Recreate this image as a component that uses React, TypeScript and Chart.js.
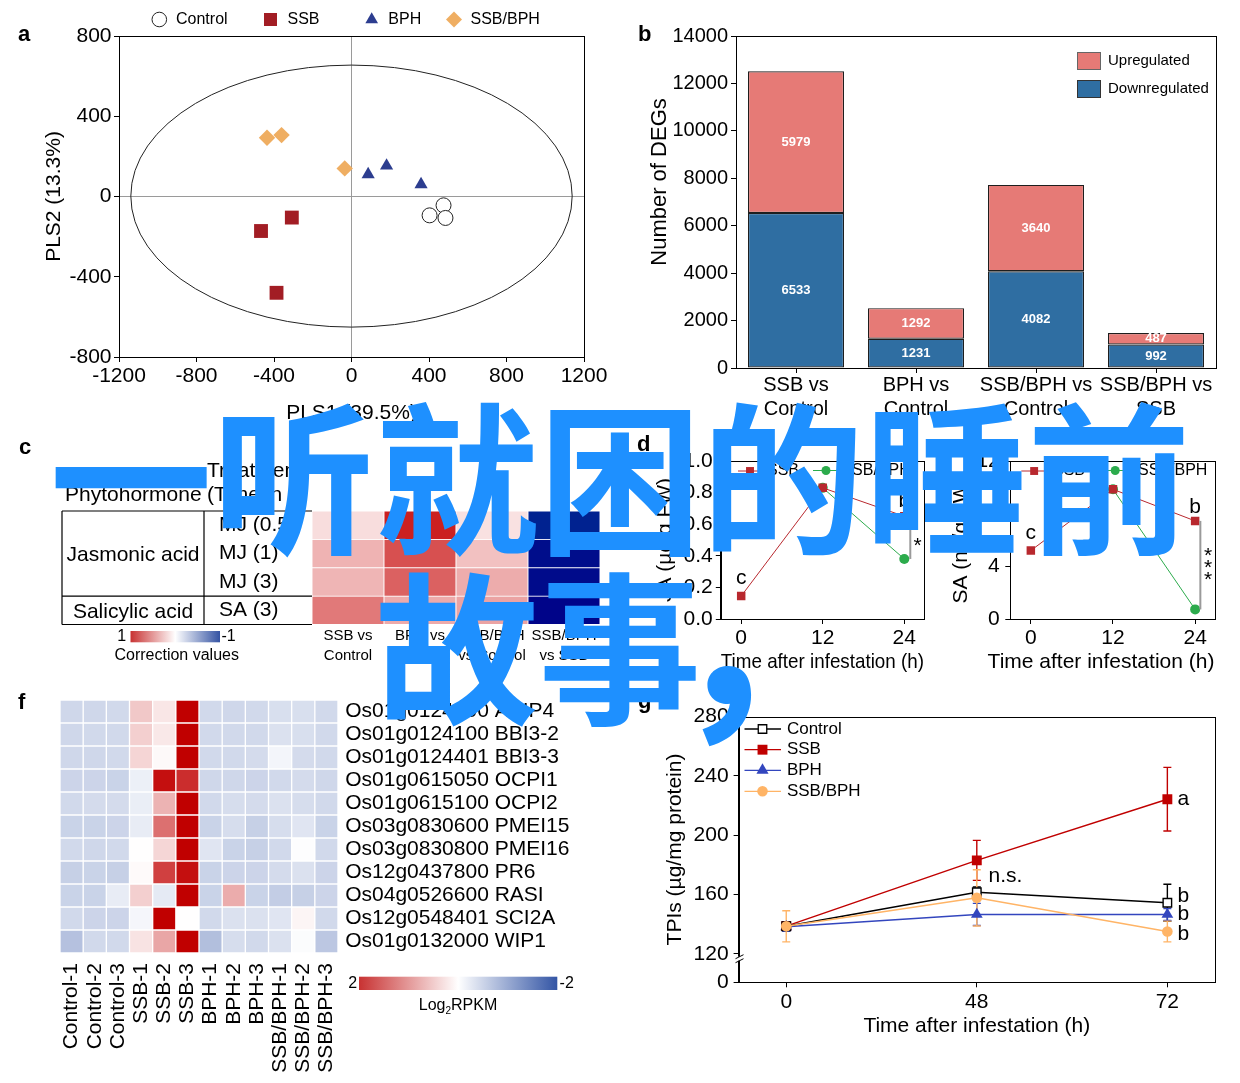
import React, { useEffect, useRef } from 'react';
import { Chart, registerables } from 'chart.js';

Chart.register(...registerables);

const FONT = "'Liberation Sans', Arial, Helvetica, sans-serif";
const BLACK = '#000000';

// ---------------- Panel a : PLS scores ----------------
const controlPLS1 = [475, 403, 485];
const controlPLS2 = [-44, -94, -107];
const ssbPLS1 = [-308, -467, -387];
const ssbPLS2 = [-105, -172, -480];
const bphPLS1 = [86, 181, 359];
const bphPLS2 = [110, 153, 60];
const ssbBphPLS1 = [-436, -361, -35];
const ssbBphPLS2 = [293, 306, 140];
const ellipseCenter = [0, 2];
const ellipseRadii = [1139, 653];

// ---------------- Panel b : DEGs ----------------
const degCategories = [['SSB vs', 'Control'], ['BPH vs', 'Control'], ['SSB/BPH vs', 'Control'], ['SSB/BPH vs', 'SSB']];
const degDown = [6533, 1231, 4082, 992];
const degUp = [5979, 1292, 3640, 487];

// ---------------- Panel c : correlation ----------------
const corrColumns = [['SSB vs', 'Control'], ['BPH vs', 'Control'], ['SSB/BPH', 'vs Control'], ['SSB/BPH', 'vs SSB']];
const corrRows = ['MJ (0.5)', 'MJ (1)', 'MJ (3)', 'SA (3)'];
const corrGroups = ['Jasmonic acid', 'Salicylic acid'];
const corrGroupSpans = [[0, 2], [3, 3]];
const corrValues = [
  [0.15, 0.95, 0.13, -0.84],
  [0.33, 0.75, 0.27, -0.94],
  [0.32, 0.68, 0.36, -0.95],
  [0.58, 0.37, 0.4, -0.98],
];

// ---------------- Panels d, e : hormones ----------------
const hormoneTimes = [0, 12, 24];
const jaSSB = [0.145, 0.83, 0.65];
const jaSSBBPH = [null, 0.83, 0.38];
const saSSB = [5.2, 9.85, 7.45];
const saSSBBPH = [null, 9.85, 0.73];

// ---------------- Panel f : heatmap ----------------
const heatSamples = ['Control-1', 'Control-2', 'Control-3', 'SSB-1', 'SSB-2', 'SSB-3', 'BPH-1', 'BPH-2', 'BPH-3', 'SSB/BPH-1', 'SSB/BPH-2', 'SSB/BPH-3'];
const heatGenes = [
  'Os01g0124200 APIP4',
  'Os01g0124100 BBI3-2',
  'Os01g0124401 BBI3-3',
  'Os01g0615050 OCPI1',
  'Os01g0615100 OCPI2',
  'Os03g0830600 PMEI15',
  'Os03g0830800 PMEI16',
  'Os12g0437800 PR6',
  'Os04g0526600 RASI',
  'Os12g0548401 SCI2A',
  'Os01g0132000 WIP1',
];
const heatValues = [
  [-0.47, -0.47, -0.45, 0.43, 0.2, 2, -0.45, -0.47, -0.45, -0.38, -0.38, -0.45],
  [-0.47, -0.45, -0.45, 0.38, 0.18, 2, -0.45, -0.45, -0.45, -0.35, -0.38, -0.45],
  [-0.47, -0.47, -0.45, 0.33, 0.05, 2, -0.45, -0.45, -0.42, -0.12, -0.42, -0.45],
  [-0.5, -0.5, -0.52, -0.18, 1.88, 1.65, -0.47, -0.47, -0.5, -0.45, -0.42, -0.47],
  [-0.45, -0.42, -0.42, -0.2, 0.6, 2, -0.45, -0.4, -0.42, -0.35, -0.4, -0.45],
  [-0.52, -0.52, -0.5, -0.22, 1.12, 2, -0.52, -0.4, -0.55, -0.4, -0.3, -0.52],
  [-0.45, -0.47, -0.45, 0.01, 0.32, 2, -0.3, -0.52, -0.55, -0.45, -0.02, -0.45],
  [-0.55, -0.52, -0.55, 0.04, 1.5, 1.88, -0.52, -0.5, -0.5, -0.42, -0.35, -0.5],
  [-0.52, -0.52, -0.22, 0.38, -0.25, 2, -0.52, 0.65, -0.52, -0.58, -0.55, -0.5],
  [-0.45, -0.5, -0.5, -0.1, 2, 0.01, -0.45, -0.35, -0.35, -0.3, 0.08, -0.45],
  [-0.72, -0.45, -0.45, 0.22, 0.7, 2, -0.75, -0.4, -0.45, -0.35, -0.04, -0.65],
];

// ---------------- Panel g : TPIs ----------------
const tpiTimes = ['0', '48', '72'];
const tpiControl = [138.5, 161.5, 154.4];
const tpiSSB = [138.6, 183, 224.3];
const tpiBPH = [138.2, 146.5, 146.5];
const tpiSSBBPH = [138.5, 157.7, 135];
const tpiControlErr = [3, 3.5, 12.5];
const tpiSSBErr = [3, 13.5, 21.5];
const tpiBPHErr = [3, 7.5, 4];
const tpiSSBBPHErr = [10.5, 19, 7];
const tpiYTicks = [120, 160, 200, 240, 280];
const tpiAxisFloor = 100.7; // bottom of broken axis, labelled "0"

// ---------------- helpers ----------------
function font(size: number, weight: string = 'normal', lineHeight: number = 1.2) {
  return { family: FONT, size, weight, lineHeight };
}

function lerpStops(stops: any[], v: number) {
  if (v <= stops[0][0]) return `rgb(${stops[0][1].join(',')})`;
  for (let i = 1; i < stops.length; i++) {
    if (v <= stops[i][0]) {
      const [a, ca] = stops[i - 1];
      const [b, cb] = stops[i];
      const t = (v - a) / (b - a);
      const c = ca.map((x: number, k: number) => Math.round(x + (cb[k] - x) * t));
      return `rgb(${c.join(',')})`;
    }
  }
  return `rgb(${stops[stops.length - 1][1].join(',')})`;
}
const corrStops = [[-1, [0, 0, 136]], [-0.8, [0, 42, 146]], [-0.5, [90, 110, 185]], [0, [255, 255, 255]], [0.5, [230, 140, 140]], [1, [200, 20, 20]]];
const heatStops = [[-2, [49, 84, 165]], [0, [255, 255, 255]], [2, [192, 0, 0]]];
const corrColor = (v: number) => lerpStops(corrStops, v);
const heatColor = (v: number) => lerpStops(heatStops, v);

function drawMarker(ctx: any, style: string, x: number, y: number, r: number, fill?: string, stroke?: string, lw?: number) {
  ctx.beginPath();
  if (style === 'circle') {
    ctx.arc(x, y, r, 0, Math.PI * 2);
  } else if (style === 'rect') {
    const s = r * Math.SQRT1_2;
    ctx.rect(x - s, y - s, 2 * s, 2 * s);
  } else if (style === 'rectRot') {
    ctx.moveTo(x, y - r);
    ctx.lineTo(x + r, y);
    ctx.lineTo(x, y + r);
    ctx.lineTo(x - r, y);
    ctx.closePath();
  } else if (style === 'triangle') {
    let a = 0;
    for (let k = 0; k < 3; k++) {
      const px = x + Math.sin(a) * r;
      const py = y - Math.cos(a) * r;
      if (k === 0) ctx.moveTo(px, py); else ctx.lineTo(px, py);
      a += (2 * Math.PI) / 3;
    }
    ctx.closePath();
  }
  if (fill) { ctx.fillStyle = fill; ctx.fill(); }
  if (stroke && lw) { ctx.strokeStyle = stroke; ctx.lineWidth = lw; ctx.stroke(); }
}

const framePlugin = {
  id: 'frame',
  afterDatasetsDraw(chart: any, _a: any, opts: any) {
    if (!opts || !opts.show) return;
    const { ctx, chartArea: a } = chart;
    ctx.save();
    ctx.strokeStyle = BLACK;
    ctx.lineWidth = 1;
    const l = Math.round(a.left) + 0.5, t = Math.round(a.top) + 0.5;
    const r = Math.round(a.right) + 0.5, b = Math.round(a.bottom) + 0.5;
    ctx.strokeRect(l, t, r - l, b - t);
    ctx.restore();
  },
};

const keyPlugin = {
  id: 'key',
  afterDraw(chart: any, _a: any, opts: any) {
    if (!opts || !opts.items) return;
    const ctx = chart.ctx;
    ctx.save();
    for (const it of opts.items) {
      if (it.line) {
        ctx.beginPath();
        ctx.moveTo(it.line[0], it.y);
        ctx.lineTo(it.line[1], it.y);
        ctx.strokeStyle = it.lineColor;
        ctx.lineWidth = it.lineWidth || 1;
        ctx.stroke();
      }
      if (it.box) {
        const b = it.box;
        ctx.fillStyle = b.fill;
        ctx.fillRect(b.x, b.y, b.w, b.h);
        ctx.strokeStyle = b.stroke;
        ctx.lineWidth = 1;
        ctx.strokeRect(b.x + 0.5, b.y + 0.5, b.w - 1, b.h - 1);
      }
      if (it.marker) {
        const m = it.marker;
        drawMarker(ctx, m.style, m.x, it.y, m.r, m.fill, m.stroke, m.lw);
      }
      ctx.font = `${opts.size}px ${FONT}`;
      ctx.fillStyle = BLACK;
      ctx.textAlign = 'left';
      ctx.textBaseline = 'middle';
      ctx.fillText(it.text, it.tx, it.y);
    }
    ctx.restore();
  },
};

const notesPlugin = {
  id: 'notes',
  afterDraw(chart: any, _a: any, opts: any) {
    if (!opts || !opts.items) return;
    const ctx = chart.ctx;
    for (const n of opts.items) {
      const xs = chart.scales[n.xScale || 'x'];
      const ys = chart.scales[n.yScale || 'y'];
      const px = n.px !== undefined ? n.px : xs.getPixelForValue(n.x) + (n.dx || 0);
      const py = n.py !== undefined ? n.py : ys.getPixelForValue(n.y) + (n.dy || 0);
      ctx.save();
      if (n.y2 !== undefined) {
        const py2 = ys.getPixelForValue(n.y2);
        ctx.beginPath();
        ctx.moveTo(px, py);
        ctx.lineTo(px, py2);
        ctx.strokeStyle = n.color || '#9a9a9a';
        ctx.lineWidth = n.width || 2;
        ctx.stroke();
      } else {
        ctx.font = `${n.bold ? 'bold ' : ''}${n.size || 21}px ${FONT}`;
        ctx.fillStyle = n.color || BLACK;
        ctx.textAlign = n.align || 'center';
        ctx.textBaseline = 'middle';
        ctx.translate(px, py);
        if (n.rotate) ctx.rotate(-Math.PI / 2);
        ctx.fillText(n.text, 0, 0);
      }
      ctx.restore();
    }
  },
};

const ellipsePlugin = {
  id: 'ellipse',
  beforeDatasetsDraw(chart: any, _a: any, opts: any) {
    if (!opts || !opts.radii) return;
    const { ctx } = chart;
    const xs = chart.scales.x, ys = chart.scales.y;
    const cx = xs.getPixelForValue(opts.center[0]);
    const cy = ys.getPixelForValue(opts.center[1]);
    const rx = Math.abs(xs.getPixelForValue(opts.center[0] + opts.radii[0]) - cx);
    const ry = Math.abs(ys.getPixelForValue(opts.center[1] + opts.radii[1]) - cy);
    ctx.save();
    ctx.beginPath();
    ctx.ellipse(cx, cy, rx, ry, 0, 0, Math.PI * 2);
    ctx.strokeStyle = '#222';
    ctx.lineWidth = 1;
    ctx.stroke();
    ctx.restore();
  },
};

const barLabelPlugin = {
  id: 'barLabels',
  afterDatasetsDraw(chart: any, _a: any, opts: any) {
    if (!opts || !opts.show) return;
    const ctx = chart.ctx;
    ctx.save();
    ctx.font = `bold 13px ${FONT}`;
    ctx.fillStyle = '#ffffff';
    ctx.textAlign = 'center';
    ctx.textBaseline = 'middle';
    chart.data.datasets.forEach((ds: any, i: number) => {
      const meta = chart.getDatasetMeta(i);
      meta.data.forEach((bar: any, j: number) => {
        ctx.fillText(String(ds.data[j]), bar.x, (bar.y + bar.base) / 2);
      });
    });
    ctx.restore();
  },
};

const errorBarPlugin = {
  id: 'errorBars',
  beforeDatasetsDraw(chart: any) {
    const ctx = chart.ctx;
    const ys = chart.scales.y;
    chart.data.datasets.forEach((ds: any, i: number) => {
      if (!ds.errors) return;
      const meta = chart.getDatasetMeta(i);
      meta.data.forEach((pt: any, j: number) => {
        const v = ds.data[j].y;
        const e = ds.errors[j];
        if (v == null || !e) return;
        const top = ys.getPixelForValue(v + e);
        const bot = ys.getPixelForValue(v - e);
        ctx.save();
        ctx.strokeStyle = ds.errorColor || ds.borderColor;
        ctx.lineWidth = 1.4;
        ctx.beginPath();
        ctx.moveTo(pt.x, top); ctx.lineTo(pt.x, bot);
        ctx.moveTo(pt.x - 4, top); ctx.lineTo(pt.x + 4, top);
        ctx.moveTo(pt.x - 4, bot); ctx.lineTo(pt.x + 4, bot);
        ctx.stroke();
        ctx.restore();
      });
    });
  },
};

const axisBreakPlugin = {
  id: 'axisBreak',
  afterDraw(chart: any, _a: any, opts: any) {
    if (!opts || opts.at === undefined) return;
    const ctx = chart.ctx;
    const x = Math.round(chart.chartArea.left) + 0.5;
    const y = chart.scales.y.getPixelForValue(opts.at) + 4;
    ctx.save();
    ctx.fillStyle = '#ffffff';
    ctx.fillRect(x - 2, y - 1, 4, 4);
    ctx.strokeStyle = BLACK;
    ctx.lineWidth = 1;
    ctx.beginPath();
    ctx.moveTo(x - 4, y + 1); ctx.lineTo(x + 4, y - 3);
    ctx.moveTo(x - 4, y + 5); ctx.lineTo(x + 4, y + 1);
    ctx.stroke();
    ctx.restore();
  },
};

const colorBarPlugin = {
  id: 'colorBar',
  afterDraw(chart: any, _a: any, o: any) {
    if (!o || !o.stops) return;
    const ctx = chart.ctx;
    ctx.save();
    const g = ctx.createLinearGradient(o.x, 0, o.x + o.w, 0);
    o.stops.forEach((s: any) => g.addColorStop(s[0], s[1]));
    ctx.fillStyle = g;
    ctx.fillRect(o.x, o.y, o.w, o.h);
    ctx.fillStyle = BLACK;
    ctx.font = `${o.size}px ${FONT}`;
    ctx.textBaseline = 'middle';
    ctx.textAlign = 'center';
    ctx.fillText(o.left, o.leftX, o.y + o.h / 2);
    ctx.fillText(o.right, o.rightX, o.y + o.h / 2);
    const parts = o.title;
    let total = 0;
    const widths = parts.map((p: any) => {
      ctx.font = `${p.sub ? Math.round(o.size * 0.62) : o.size}px ${FONT}`;
      const w = ctx.measureText(p.text).width;
      total += w;
      return w;
    });
    let x = o.titleX - total / 2;
    ctx.textAlign = 'left';
    parts.forEach((p: any, i: number) => {
      ctx.font = `${p.sub ? Math.round(o.size * 0.62) : o.size}px ${FONT}`;
      ctx.fillText(p.text, x, o.titleY + (p.sub ? 6 : 0));
      x += widths[i];
    });
    ctx.restore();
  },
};

const corrTablePlugin = {
  id: 'corrTable',
  afterDraw(chart: any, _a: any, o: any) {
    if (!o || !o.show) return;
    const { ctx, chartArea: a } = chart;
    const ys = chart.scales.y;
    const n = corrRows.length;
    const L = o.left, M = o.mid, R = a.left;
    const T = a.top, B = a.bottom, D = ys.getPixelForValue(1);
    ctx.save();
    ctx.strokeStyle = BLACK;
    ctx.lineWidth = 1.2;
    ctx.beginPath();
    ctx.moveTo(L, T); ctx.lineTo(R, T);
    ctx.moveTo(L, D); ctx.lineTo(R, D);
    ctx.moveTo(L, B); ctx.lineTo(R, B);
    ctx.moveTo(L, T); ctx.lineTo(L, B);
    ctx.moveTo(M, T); ctx.lineTo(M, B);
    ctx.stroke();
    ctx.fillStyle = BLACK;
    ctx.font = `21px ${FONT}`;
    ctx.textBaseline = 'middle';
    ctx.textAlign = 'left';
    corrRows.forEach((row, r) => {
      ctx.fillText(row, M + 15, ys.getPixelForValue(n - 0.5 - r));
    });
    ctx.textAlign = 'center';
    corrGroups.forEach((g, i) => {
      const [r0, r1] = corrGroupSpans[i];
      const yc = (ys.getPixelForValue(n - r0) + ys.getPixelForValue(n - 1 - r1)) / 2;
      ctx.fillText(g, (L + M) / 2, yc + 2);
    });
    ctx.textAlign = 'left';
    ctx.fillText('Treatment', o.mid + 3, o.headY1);
    ctx.fillText('(Time in h)', o.mid + 3, o.headY2);
    ctx.fillText('Phytohormone', L + 3, o.headY2);
    ctx.restore();
  },
};

const common = {
  responsive: false,
  maintainAspectRatio: false,
  animation: false,
  devicePixelRatio: 1,
  events: [] as any[],
};

const noLegend = { legend: { display: false }, tooltip: { enabled: false } };

function plainGrid() {
  return { drawOnChartArea: false, color: BLACK, tickColor: BLACK, tickLength: 5, lineWidth: 1 };
}

// ---------------- chart factories ----------------
function makeA() {
  const W = 620, H = 430;
  const area = { l: 119, t: 36, r: 584, b: 357 };
  const mk = (label: string, xs: number[], ys: number[], style: string, r: number, fill: string, stroke: string, bw: number) => ({
    label,
    data: xs.map((x, i) => ({ x, y: ys[i] })),
    pointStyle: style,
    pointRadius: r,
    backgroundColor: fill,
    borderColor: stroke,
    borderWidth: bw,
    showLine: false,
  });
  const zeroGrid = {
    drawOnChartArea: true,
    color: (c: any) => (c.tick && c.tick.value === 0 ? '#9a9a9a' : 'rgba(0,0,0,0)'),
    tickColor: BLACK,
    tickLength: 5,
    lineWidth: 1,
  };
  return {
    type: 'scatter',
    data: {
      datasets: [
        mk('Control', controlPLS1, controlPLS2, 'circle', 7.5, '#ffffff', '#222222', 1),
        mk('SSB', ssbPLS1, ssbPLS2, 'rect', 9.8, '#A21D24', '#A21D24', 0),
        mk('BPH', bphPLS1, bphPLS2, 'triangle', 7.6, '#2C3D8F', '#2C3D8F', 0),
        mk('SSB/BPH', ssbBphPLS1, ssbBphPLS2, 'rectRot', 8.2, '#EFAE62', '#EFAE62', 0),
      ],
    },
    options: {
      ...common,
      layout: { padding: { left: 0, top: area.t, right: W - area.r, bottom: 0 } },
      plugins: {
        ...noLegend,
        frame: { show: true },
        ellipse: { center: ellipseCenter, radii: ellipseRadii },
        key: {
          size: 16,
          items: [
            { text: 'Control', tx: 176, y: 19.5, marker: { style: 'circle', x: 159.3, r: 7.3, fill: '#ffffff', stroke: '#222', lw: 1 } },
            { text: 'SSB', tx: 287.5, y: 19.5, marker: { style: 'rect', x: 270.5, r: 9.2, fill: '#A21D24' } },
            { text: 'BPH', tx: 388.3, y: 19.5, marker: { style: 'triangle', x: 371.7, r: 7.3, fill: '#2C3D8F' } },
            { text: 'SSB/BPH', tx: 470.5, y: 19.5, marker: { style: 'rectRot', x: 454, r: 8, fill: '#EFAE62' } },
          ],
        },
      },
      scales: {
        x: {
          type: 'linear', min: -1200, max: 1200,
          afterFit: (s: any) => { s.height = H - area.b; },
          ticks: { stepSize: 400, font: font(21), color: BLACK, padding: 1.5, callback: (v: any) => String(v) },
          grid: zeroGrid,
          border: { color: BLACK },
          title: { display: true, text: 'PLS1 (39.5%)', font: font(21), color: BLACK, padding: { top: 0, bottom: H - 413 - 12.6 } },
        },
        y: {
          type: 'linear', min: -800, max: 800,
          afterFit: (s: any) => { s.width = area.l; },
          ticks: { stepSize: 400, font: font(21), color: BLACK, padding: 2.5, callback: (v: any) => String(v) },
          grid: zeroGrid,
          border: { color: BLACK },
          title: { display: true, text: 'PLS2 (13.3%)', font: font(21), color: BLACK, padding: { top: 54.4 - 12.6, bottom: 0 } },
        },
      },
    },
    plugins: [ellipsePlugin, framePlugin, keyPlugin],
  };
}

function makeB() {
  const W = 620, H = 430;
  const area = { l: 116, t: 36, r: 596, b: 368 };
  return {
    type: 'bar',
    data: {
      labels: degCategories,
      datasets: [
        { label: 'Downregulated', data: degDown, backgroundColor: '#2F6EA2', borderColor: '#1E1E1E', borderWidth: 1.2, borderSkipped: false, barPercentage: 0.8, categoryPercentage: 1 },
        { label: 'Upregulated', data: degUp, backgroundColor: '#E67A76', borderColor: '#1E1E1E', borderWidth: 1.2, borderSkipped: false, barPercentage: 0.8, categoryPercentage: 1 },
      ],
    },
    options: {
      ...common,
      layout: { padding: { left: 0, top: area.t, right: W - area.r, bottom: 0 } },
      plugins: {
        ...noLegend,
        frame: { show: true },
        barLabels: { show: true },
        key: {
          size: 15,
          items: [
            { text: 'Upregulated', tx: 488, y: 61, box: { x: 457, y: 52, w: 24, h: 18, fill: '#E67A76', stroke: '#666' } },
            { text: 'Downregulated', tx: 488, y: 89, box: { x: 457, y: 80, w: 24, h: 18, fill: '#2F6EA2', stroke: '#333' } },
          ],
        },
        notes: { items: [{ text: 'Number of DEGs', px: 40, py: 182, rotate: true, size: 22 }] },
      },
      scales: {
        x: {
          stacked: true, offset: true,
          afterFit: (s: any) => { s.height = H - area.b; },
          grid: { ...plainGrid(), offset: false },
          border: { color: BLACK },
          ticks: { font: font(20), color: BLACK, padding: 0, maxRotation: 0, autoSkip: false },
        },
        y: {
          stacked: true, min: 0, max: 14000,
          afterFit: (s: any) => { s.width = area.l; },
          grid: plainGrid(),
          border: { color: BLACK },
          ticks: { stepSize: 2000, font: font(20), color: BLACK, padding: 3, callback: (v: any) => String(v) },
        },
      },
    },
    plugins: [framePlugin, barLabelPlugin, keyPlugin, notesPlugin],
  };
}

function makeC() {
  const W = 620, H = 260;
  const area = { l: 312, t: 91, r: 600, b: 204.5 };
  const n = corrRows.length;
  return {
    type: 'bar',
    data: {
      labels: corrColumns,
      datasets: corrRows.map((row, r) => ({
        label: row,
        data: corrColumns.map(() => [n - 1 - r, n - r]),
        backgroundColor: corrValues[r].map(corrColor),
        borderColor: '#ffffff',
        borderWidth: 0.8,
        borderSkipped: false,
        barPercentage: 1,
        categoryPercentage: 1,
        grouped: false,
      })),
    },
    options: {
      ...common,
      layout: { padding: { left: area.l, top: area.t, right: W - area.r, bottom: 0 } },
      plugins: {
        ...noLegend,
        corrTable: { show: true, left: 62, mid: 204, headY1: 51, headY2: 75 },
        colorBar: {
          stops: [[0, '#C83232'], [0.5, '#FFFFFF'], [1, '#3453A3']],
          x: 130.5, y: 211, w: 89.5, h: 11.3, size: 16,
          left: '1', leftX: 121.8, right: '-1', rightX: 228.5,
          title: [{ text: 'Correction values' }], titleX: 176.7, titleY: 236,
        },
      },
      scales: {
        x: {
          offset: true,
          afterFit: (s: any) => { s.height = H - area.b; },
          grid: { display: false, drawTicks: false },
          border: { display: false },
          ticks: { font: font(15, 'normal', 1.3), color: BLACK, padding: 2, maxRotation: 0, autoSkip: false },
        },
        y: { type: 'linear', min: 0, max: n, display: false },
      },
    },
    plugins: [corrTablePlugin, colorBarPlugin],
  };
}

function makeTimeChart(p: any) {
  const { W, H, area } = p;
  return {
    type: 'line',
    data: {
      datasets: [
        {
          label: 'SSB',
          data: hormoneTimes.map((t, i) => ({ x: t, y: p.ssb[i] })),
          borderColor: '#B8282E', backgroundColor: '#B8282E',
          pointStyle: 'rect', pointRadius: 6, pointBorderWidth: 0, borderWidth: 1, tension: 0,
        },
        {
          label: 'SSB/BPH',
          data: hormoneTimes.map((t, i) => ({ x: t, y: p.ssbbph[i] })),
          borderColor: '#2CAB4C', backgroundColor: '#2CAB4C',
          pointStyle: 'circle', pointRadius: 5, pointBorderWidth: 0, borderWidth: 1, tension: 0,
        },
      ],
    },
    options: {
      ...common,
      layout: { padding: { left: 0, top: area.t, right: W - area.r, bottom: 0 } },
      plugins: {
        ...noLegend,
        frame: { show: true },
        key: {
          size: 16,
          items: [
            { text: 'SSB', tx: p.key.ssbText, y: 51, line: p.key.ssbLine, lineColor: '#B8282E', marker: { style: 'rect', x: (p.key.ssbLine[0] + p.key.ssbLine[1]) / 2, r: 5.6, fill: '#B8282E' } },
            { text: 'SSB/BPH', tx: p.key.bText, y: 50.5, line: p.key.bLine, lineColor: '#2CAB4C', marker: { style: 'circle', x: (p.key.bLine[0] + p.key.bLine[1]) / 2, r: 4.5, fill: '#2CAB4C' } },
          ],
        },
        notes: { items: p.notes },
      },
      scales: {
        x: {
          type: 'linear', min: -3, max: 26.9,
          afterFit: (s: any) => { s.height = H - area.b; },
          afterBuildTicks: (s: any) => { s.ticks = hormoneTimes.map((v) => ({ value: v })); },
          grid: plainGrid(),
          border: { color: BLACK },
          ticks: { font: font(21), color: BLACK, padding: 2, callback: (v: any) => String(v) },
          title: p.xTitle
            ? { display: true, text: 'Time after infestation (h)', font: font(21), color: BLACK, padding: { top: 0, bottom: H - p.xTitleY - 12.6 } }
            : { display: false },
        },
        y: {
          type: 'linear', min: 0, max: p.yMax,
          afterFit: (s: any) => { s.width = area.l; },
          grid: plainGrid(),
          border: { color: BLACK },
          ticks: { stepSize: p.yStep, font: font(21), color: BLACK, padding: p.yPad, callback: p.yFmt },
          title: { display: true, text: p.yTitle, font: font(21), color: BLACK, padding: { top: p.yTitleX - 12.6, bottom: 0 } },
        },
      },
    },
    plugins: [framePlugin, keyPlugin, notesPlugin],
  };
}

function makeD() {
  return makeTimeChart({
    W: 310, H: 260,
    area: { l: 100.8, t: 41, r: 304, b: 199 },
    ssb: jaSSB, ssbbph: jaSSBBPH,
    yMax: 1.0, yStep: 0.2, yPad: 3,
    yFmt: (v: any) => Number(v).toFixed(1),
    yTitle: 'JA (µg/g FW)', yTitleX: 45.5,
    xTitle: true, xTitleY: 242.7,
    key: { ssbLine: [118, 142], ssbText: 147, bLine: [193, 219], bText: 221.4 },
    notes: [
      { text: 'c', x: 0, y: jaSSB[0], dy: -17.5 },
      { text: 'b', x: 24, y: jaSSB[2], dy: -14.6 },
      { x: 24, y: jaSSB[2], y2: jaSSBBPH[2], dx: 6 },
      { text: '*', px: 297.7, py: 126.5 },
    ],
  });
}

function makeE() {
  return makeTimeChart({
    W: 310, H: 260,
    area: { l: 80.3, t: 41, r: 285, b: 199 },
    ssb: saSSB, ssbbph: saSSBBPH,
    yMax: 12, yStep: 2, yPad: 5.5,
    yFmt: (v: any) => String(v),
    yTitle: 'SA (ng/g FW)', yTitleX: 30.8,
    xTitle: false,
    key: { ssbLine: [91.3, 117], ssbText: 123, bLine: [172.4, 198], bText: 208 },
    notes: [
      { text: 'Time after infestation (h)', px: 171, py: 242.7 },
      { text: 'c', x: 0, y: saSSB[0], dy: -17 },
      { text: 'b', x: 24, y: saSSB[2], dy: -13.6 },
      { x: 24, y: saSSB[2], y2: saSSBBPH[2], dx: 5.2 },
      { text: '*', px: 278, py: 136.5 },
      { text: '*', px: 278, py: 148.5 },
      { text: '*', px: 278, py: 160.5 },
    ],
  });
}

function makeF() {
  const W = 620, H = 403;
  const area = { l: 60, t: 20, r: 338, b: 273 };
  return {
    type: 'bar',
    data: {
      labels: heatGenes,
      datasets: heatSamples.map((s, c) => ({
        label: s,
        data: heatGenes.map(() => [c, c + 1]),
        backgroundColor: heatGenes.map((_, r) => heatColor(heatValues[r][c])),
        borderColor: '#ffffff',
        borderWidth: 1,
        borderSkipped: false,
        barPercentage: 1,
        categoryPercentage: 1,
        grouped: false,
      })),
    },
    options: {
      ...common,
      indexAxis: 'y',
      layout: { padding: { left: area.l, top: area.t, right: 0, bottom: 0 } },
      plugins: {
        ...noLegend,
        colorBar: {
          stops: [[0, '#C83232'], [0.5, '#FFFFFF'], [1, '#3355A5']],
          x: 359, y: 296.7, w: 198.3, h: 13.3, size: 16,
          left: '2', leftX: 352.7, right: '-2', rightX: 566.7,
          title: [{ text: 'Log' }, { text: '2', sub: true }, { text: 'RPKM' }], titleX: 458, titleY: 325.7,
        },
      },
      scales: {
        y: {
          type: 'category', labels: heatGenes, position: 'right', offset: true,
          afterFit: (s: any) => { s.width = W - area.r; },
          grid: { display: false, drawTicks: false },
          border: { display: false },
          ticks: { font: font(21), color: BLACK, padding: 7.2, autoSkip: false },
        },
        x: { type: 'linear', min: 0, max: heatSamples.length, display: false },
        x2: {
          type: 'category', labels: heatSamples, position: 'bottom', offset: true, axis: 'x',
          afterFit: (s: any) => { s.height = H - area.b; },
          grid: { display: false, drawTicks: false },
          border: { display: false },
          ticks: { font: font(21), color: BLACK, padding: 10, autoSkip: false, minRotation: 90, maxRotation: 90 },
        },
      },
    },
    plugins: [colorBarPlugin],
  };
}

function makeG() {
  const W = 620, H = 403;
  const area = { l: 118.6, t: 36.7, r: 595, b: 302.3 };
  const mk = (label: string, vals: number[], errs: number[], color: string, fill: string, style: string, r: number, order: number, pbw: number) => ({
    label,
    data: vals.map((y, i) => ({ x: i, y })),
    errors: errs,
    borderColor: color,
    backgroundColor: fill,
    pointBackgroundColor: fill,
    pointBorderColor: color,
    pointBorderWidth: pbw,
    pointStyle: style,
    pointRadius: r,
    borderWidth: 1.5,
    tension: 0,
    order,
  });
  return {
    type: 'line',
    data: {
      datasets: [
        mk('Control', tpiControl, tpiControlErr, '#000000', '#ffffff', 'rect', 6, 1, 1.4),
        mk('SSB', tpiSSB, tpiSSBErr, '#C00000', '#C00000', 'rect', 7, 2, 0),
        mk('BPH', tpiBPH, tpiBPHErr, '#3346BE', '#3346BE', 'triangle', 6.8, 3, 0),
        mk('SSB/BPH', tpiSSBBPH, tpiSSBBPHErr, '#FFB466', '#FFB466', 'circle', 5.3, 0, 0),
      ],
    },
    options: {
      ...common,
      layout: { padding: { left: 0, top: area.t, right: W - area.r, bottom: 0 } },
      plugins: {
        ...noLegend,
        frame: { show: true },
        axisBreak: { at: 120 },
        key: {
          size: 17,
          items: [
            { text: 'Control', tx: 166.9, y: 49, line: [124.5, 161], lineColor: '#000', lineWidth: 1.3, marker: { style: 'rect', x: 142.5, r: 6, fill: '#fff', stroke: '#000', lw: 1.3 } },
            { text: 'SSB', tx: 166.9, y: 69.7, line: [124.5, 161], lineColor: '#C00000', lineWidth: 1.3, marker: { style: 'rect', x: 142.5, r: 7, fill: '#C00000' } },
            { text: 'BPH', tx: 166.9, y: 90.3, line: [124.5, 161], lineColor: '#3346BE', lineWidth: 1.3, marker: { style: 'triangle', x: 142.5, r: 7, fill: '#3346BE' } },
            { text: 'SSB/BPH', tx: 166.9, y: 111.3, line: [124.5, 161], lineColor: '#FFB466', lineWidth: 1.3, marker: { style: 'circle', x: 142.5, r: 5.3, fill: '#FFB466' } },
          ],
        },
        notes: {
          items: [
            { text: 'a', x: 2, y: tpiSSB[2], dx: 16, dy: 0 },
            { text: 'b', x: 2, y: tpiControl[2], dx: 16, dy: -6.7 },
            { text: 'b', x: 2, y: tpiBPH[2], dx: 16, dy: 0 },
            { text: 'b', x: 2, y: tpiSSBBPH[2], dx: 16, dy: 3 },
            { text: 'n.s.', px: 385.5, py: 196 },
          ],
        },
      },
      scales: {
        x: {
          type: 'linear', min: -0.25, max: 2.25,
          afterFit: (s: any) => { s.height = H - area.b; },
          afterBuildTicks: (s: any) => { s.ticks = tpiTimes.map((_, i) => ({ value: i })); },
          grid: plainGrid(),
          border: { color: BLACK },
          ticks: { font: font(21), color: BLACK, padding: 2, callback: (v: any) => tpiTimes[v] ?? '' },
          title: { display: true, text: 'Time after infestation (h)', font: font(21), color: BLACK, padding: { top: 0, bottom: H - 346.7 - 12.6 } },
        },
        y: {
          type: 'linear', min: tpiAxisFloor, max: 280,
          afterFit: (s: any) => { s.width = area.l; },
          afterBuildTicks: (s: any) => { s.ticks = [tpiAxisFloor, ...tpiYTicks].map((v) => ({ value: v })); },
          grid: plainGrid(),
          border: { color: BLACK },
          ticks: { font: font(21), color: BLACK, padding: 5, callback: (v: any) => (v === tpiAxisFloor ? '0' : String(v)) },
          title: { display: true, text: 'TPIs (µg/mg protein)', font: font(21), color: BLACK, padding: { top: 55.4 - 12.6, bottom: 0 } },
        },
      },
    },
    plugins: [errorBarPlugin, framePlugin, axisBreakPlugin, keyPlugin, notesPlugin],
  };
}

function ChartCanvas({ left, top, width, height, make }: any) {
  const ref = useRef<HTMLCanvasElement | null>(null);
  useEffect(() => {
    if (!ref.current) return;
    const chart = new Chart(ref.current, make());
    return () => chart.destroy();
  }, [make]);
  return <canvas ref={ref} width={width} height={height} style={{ position: 'absolute', left, top, width, height }} />;
}

const panelLetters = [
  { t: 'a', x: 18, y: 20.7 },
  { t: 'b', x: 638, y: 20.7 },
  { t: 'c', x: 19, y: 434 },
  { t: 'd', x: 637, y: 431 },
  { t: 'f', x: 18, y: 688.5 },
  { t: 'g', x: 638, y: 687.5 },
];

export default function App() {
  return (
    <div style={{ position: 'absolute', left: 0, top: 0, width: 1240, height: 1083, background: '#ffffff', overflow: 'hidden' }}>
      <ChartCanvas left={0} top={0} width={620} height={430} make={makeA} />
      <ChartCanvas left={620} top={0} width={620} height={430} make={makeB} />
      <ChartCanvas left={0} top={420} width={620} height={260} make={makeC} />
      <ChartCanvas left={620} top={420} width={310} height={260} make={makeD} />
      <ChartCanvas left={930} top={420} width={310} height={260} make={makeE} />
      <ChartCanvas left={0} top={680} width={620} height={403} make={makeF} />
      <ChartCanvas left={620} top={680} width={620} height={403} make={makeG} />
      {panelLetters.map((p) => (
        <div key={p.t} style={{ position: 'absolute', left: p.x, top: p.y, font: `bold 22px ${FONT}`, lineHeight: '26px', color: '#000' }}>{p.t}</div>
      ))}
      <div
        style={{
          position: 'absolute', left: 0, top: 385, width: 1240, textAlign: 'center',
          fontFamily: "'Noto Sans CJK SC', sans-serif", fontSize: 163, lineHeight: '170px', fontWeight: 700,
          color: '#1E90FF', whiteSpace: 'pre', pointerEvents: 'none', zIndex: 10,
        }}
      >
        {'一听就困的睡前\n故事'}
        <span style={{ position: 'relative', left: -24, display: 'inline-block', transform: 'scale(1.3)', transformOrigin: '20% 80%' }}>，</span>
      </div>
    </div>
  );
}
